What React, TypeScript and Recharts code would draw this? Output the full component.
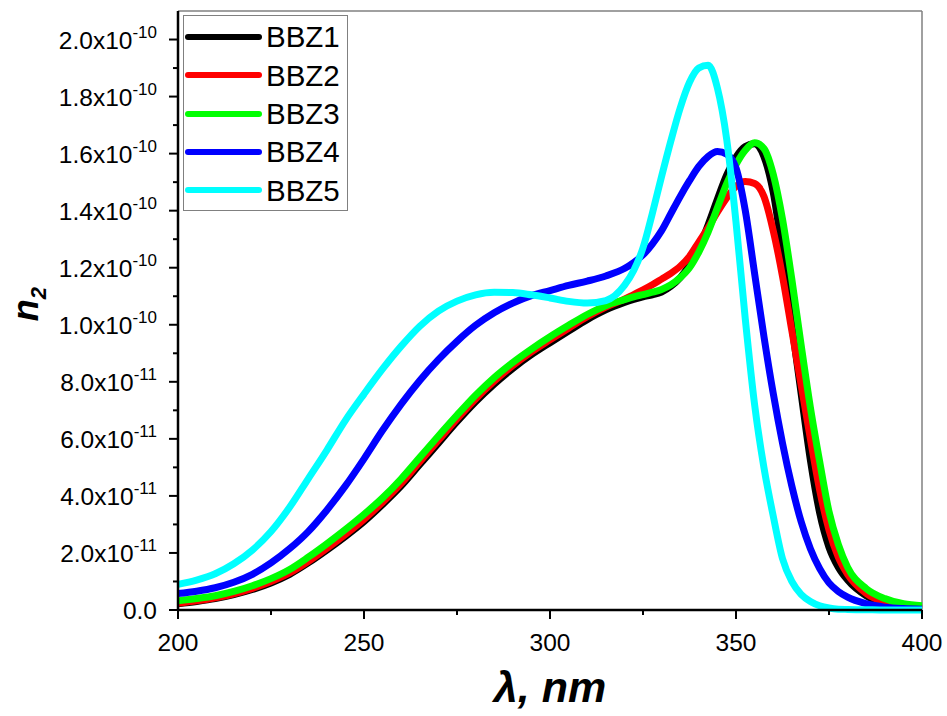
import { LineChart, Line, XAxis, YAxis, ReferenceLine, Legend, Label } from 'recharts';

// wavelength grid, nm
const wavelength = [
  200, 205, 210, 215, 220, 225, 230, 235, 240, 245, 250, 255, 260, 265, 270, 275, 280, 285, 290, 295, 300, 305, 310, 315, 320,
  322.5, 325, 327.5, 330, 332.5, 335, 337.5, 340, 342.5, 345, 347.5, 350, 352.5, 355, 357.5, 360, 362.5, 365, 367.5, 370,
  372.5, 375, 377.5, 380, 385, 390, 395, 400,
];

// n2 values in units of 1e-10
const bbz1 = [
  0.022, 0.03, 0.04, 0.054, 0.072, 0.095, 0.125, 0.165, 0.21, 0.258, 0.31, 0.37, 0.435, 0.51, 0.585, 0.66, 0.73, 0.792, 0.847, 0.895, 0.937, 0.978, 1.018, 1.052, 1.078,
  1.089, 1.098, 1.105, 1.115, 1.135, 1.165, 1.21, 1.27, 1.35, 1.44, 1.525, 1.588, 1.625, 1.635, 1.59, 1.465, 1.25, 1.0, 0.76, 0.525,
  0.34, 0.22, 0.15, 0.105, 0.05, 0.022, 0.01, 0.006,
];
const bbz2 = [
  0.024, 0.032, 0.043, 0.057, 0.076, 0.1, 0.13, 0.17, 0.216, 0.265, 0.318, 0.378, 0.444, 0.52, 0.595, 0.67, 0.74, 0.802, 0.857, 0.905, 0.947, 0.988, 1.028, 1.062, 1.09,
  1.106, 1.122, 1.14, 1.16, 1.18, 1.205, 1.24, 1.29, 1.34, 1.395, 1.445, 1.485, 1.502, 1.495, 1.45, 1.33, 1.17, 0.98, 0.79, 0.6,
  0.42, 0.28, 0.185, 0.125, 0.058, 0.027, 0.013, 0.008,
];
const bbz3 = [
  0.032, 0.04, 0.05, 0.065, 0.085, 0.11, 0.142, 0.185, 0.232, 0.282, 0.335, 0.393, 0.46, 0.535, 0.61, 0.683, 0.753, 0.815, 0.868, 0.915, 0.958, 0.998, 1.036, 1.067, 1.088,
  1.098, 1.106, 1.114, 1.124, 1.14, 1.165, 1.2, 1.255, 1.325, 1.41, 1.495, 1.562, 1.612, 1.638, 1.618, 1.528, 1.37, 1.16, 0.93, 0.71,
  0.52, 0.345, 0.23, 0.15, 0.075, 0.04, 0.022, 0.015,
];
const bbz4 = [
  0.058, 0.066, 0.078, 0.097, 0.125, 0.165, 0.215, 0.275, 0.35, 0.435, 0.53, 0.63, 0.722, 0.805, 0.878, 0.942, 0.998, 1.042, 1.076, 1.102, 1.12, 1.138, 1.153, 1.171, 1.197,
  1.218, 1.245, 1.283, 1.33, 1.39, 1.45, 1.505, 1.555, 1.59, 1.607, 1.598, 1.55, 1.4, 1.18, 0.96, 0.76, 0.585, 0.435, 0.31, 0.215,
  0.145, 0.095, 0.065, 0.045, 0.022, 0.01, 0.005, 0.003,
];
const bbz5 = [
  0.09, 0.105, 0.127, 0.162, 0.21, 0.275, 0.36, 0.46, 0.56, 0.665, 0.757, 0.845, 0.925, 0.995, 1.048, 1.083, 1.105, 1.114, 1.113, 1.105, 1.094, 1.082, 1.076, 1.085, 1.138,
  1.19, 1.27, 1.39, 1.52, 1.645, 1.76, 1.85, 1.9, 1.91, 1.83, 1.65, 1.36, 1.02, 0.72, 0.5, 0.33, 0.18, 0.1, 0.055, 0.03,
  0.015, 0.007, 0.003, 0.002, 0.001, 0, 0, 0,
];

const seriesNames = ['BBZ1', 'BBZ2', 'BBZ3', 'BBZ4', 'BBZ5'];
const seriesColors = ['#000000', '#ff0000', '#00ff00', '#0000ff', '#00ffff'];
const seriesValues = [bbz1, bbz2, bbz3, bbz4, bbz5];

const xTicks = [200, 225, 250, 275, 300, 325, 350, 375, 400];
const xTickLabels = ['200', '', '250', '', '300', '', '350', '', '400'];

const yTicks = [0, 0.1, 0.2, 0.3, 0.4, 0.5, 0.6, 0.7, 0.8, 0.9, 1.0, 1.1, 1.2, 1.3, 1.4, 1.5, 1.6, 1.7, 1.8, 1.9, 2.0];
const yTickMantissa = ['0.0', '', '2.0', '', '4.0', '', '6.0', '', '8.0', '', '1.0', '', '1.2', '', '1.4', '', '1.6', '', '1.8', '', '2.0'];
const yTickExponent = ['', '', '-11', '', '-11', '', '-11', '', '-11', '', '-10', '', '-10', '', '-10', '', '-10', '', '-10', '', '-10'];

const data = wavelength.map((wl, i) => {
  const row: Record<string, number> = { wl };
  seriesNames.forEach((name, s) => {
    row[name] = seriesValues[s][i];
  });
  return row;
});

const FONT = '"Liberation Sans", Arial, sans-serif';

const XTick = (props: any) => {
  const { x, y, index } = props;
  const label = xTickLabels[index];
  const major = label !== '';
  return (
    <g>
      <line x1={x} y1={y} x2={x} y2={y + (major ? 9 : 5)} stroke="#000" strokeWidth={2} />
      {major && (
        <text x={x} y={y + 41} textAnchor="middle" fontSize={24.5} fontFamily={FONT} fill="#000">
          {label}
        </text>
      )}
    </g>
  );
};

const YTick = (props: any) => {
  const { x, y, index } = props;
  const mant = yTickMantissa[index];
  const exp = yTickExponent[index];
  const major = mant !== '';
  return (
    <g>
      <line x1={x} y1={y} x2={x - (major ? 9 : 5)} y2={y} stroke="#000" strokeWidth={2} />
      {major && (
        <text x={157} y={y + 9} textAnchor="end" fontSize={24.5} fontFamily={FONT} fill="#000">
          <tspan>{exp ? mant + 'x10' : mant}</tspan>
          {exp && (
            <tspan dy={-11} fontSize={17}>
              {exp}
            </tspan>
          )}
        </text>
      )}
    </g>
  );
};

const LegendBox = (props: any) => {
  const { payload } = props;
  return (
    <div
      style={{
        border: '1.5px solid #808080',
        background: '#fff',
        width: 165,
        height: 196,
        boxSizing: 'border-box',
        paddingTop: 2,
      }}
    >
      {(payload || []).map((entry: any) => (
        <div key={entry.value} style={{ display: 'flex', alignItems: 'center', height: 38.3 }}>
          <svg width={80} height={10} style={{ marginLeft: 0 }}>
            <line x1={4} y1={5} x2={75} y2={5} stroke={entry.color} strokeWidth={6} strokeLinecap="round" />
          </svg>
          <span style={{ fontFamily: FONT, fontSize: 29.5, color: '#000', marginLeft: 2, lineHeight: 1 }}>{entry.value}</span>
        </div>
      ))}
    </div>
  );
};

export default function App() {
  return (
    <div style={{ position: 'absolute', left: 0, top: 0, width: 947, height: 716, background: '#fff' }}>
      <LineChart width={947} height={716} data={data} margin={{ top: 11, right: 25, left: 0, bottom: 0 }}>
        <XAxis
          dataKey="wl"
          type="number"
          domain={[200, 400]}
          ticks={xTicks}
          interval={0}
          height={106}
          tickSize={0}
          tickMargin={0}
          tickLine={false}
          axisLine={{ stroke: '#000', strokeWidth: 2.5 }}
          tick={<XTick />}
        >
          <Label
            content={(p: any) => {
              const vb = p.viewBox;
              return (
                <text
                  x={vb.x + vb.width / 2}
                  y={702}
                  textAnchor="middle"
                  fontSize={43}
                  fontWeight="bold"
                  fontStyle="italic"
                  fontFamily={FONT}
                  fill="#000"
                >
                  λ, nm
                </text>
              );
            }}
          />
        </XAxis>
        <YAxis
          type="number"
          domain={[0, 2.1]}
          ticks={yTicks}
          interval={0}
          width={178}
          tickSize={0}
          tickMargin={0}
          tickLine={false}
          axisLine={{ stroke: '#000', strokeWidth: 2.5 }}
          tick={<YTick />}
        >
          <Label
            content={() => (
              <text
                transform="translate(38, 304) rotate(-90)"
                textAnchor="middle"
                fontSize={36}
                fontWeight="bold"
                fontStyle="italic"
                fontFamily={FONT}
                fill="#000"
              >
                <tspan>n</tspan>
                <tspan dy={8} fontSize={22}>
                  2
                </tspan>
              </text>
            )}
          />
        </YAxis>
        <ReferenceLine y={2.1} stroke="#808080" strokeWidth={1.5} />
        <ReferenceLine x={400} stroke="#808080" strokeWidth={1.5} />
        <Legend
          layout="horizontal"
          verticalAlign="middle"
          align="center"
          content={<LegendBox />}
          wrapperStyle={{ left: 183, top: 15, width: 165, height: 196 }}
        />
        {seriesNames.map((name, s) => (
          <Line
            key={name}
            type="monotone"
            dataKey={name}
            name={name}
            stroke={seriesColors[s]}
            strokeWidth={7}
            dot={false}
            isAnimationActive={false}
          />
        ))}
      </LineChart>
    </div>
  );
}
